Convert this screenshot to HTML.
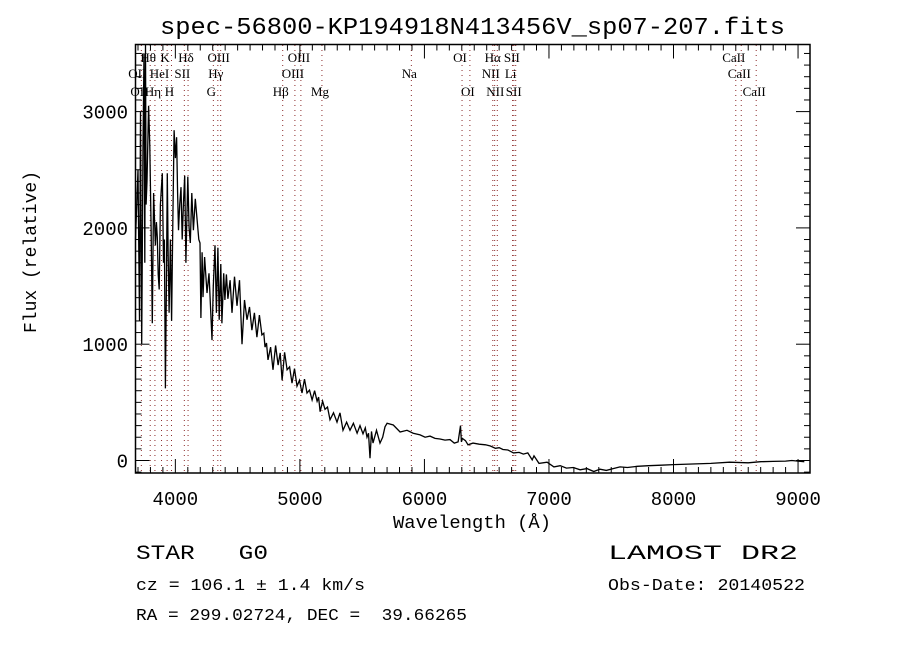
<!DOCTYPE html>
<html><head><meta charset="utf-8"><style>
body{margin:0;background:#fff;}
</style></head><body>
<svg id="chart" width="900" height="650" viewBox="0 0 900 650" xmlns="http://www.w3.org/2000/svg" font-family="Liberation Mono, monospace">
<rect width="900" height="650" fill="#fff"/>
<text x="160" y="34" font-size="24" textLength="625" lengthAdjust="spacingAndGlyphs" fill="#000">spec-56800-KP194918N413456V_sp07-207.fits</text>
<g id="lines"></g>
<g id="ticks"></g>
<path id="spec" fill="none" stroke="#000" stroke-width="1.3"/>
<rect x="135.5" y="44.5" width="674.5" height="428.5" fill="none" stroke="#000" stroke-width="1.5"/>
<text x="393" y="528" font-size="18" textLength="158" lengthAdjust="spacingAndGlyphs">Wavelength (Å)</text>
<text transform="translate(36,252) rotate(-90)" font-size="18" text-anchor="middle">Flux (relative)</text>
<g fill="#000">
<text x="136" y="559" font-size="20" xml:space="preserve" textLength="132" lengthAdjust="spacingAndGlyphs">STAR   G0</text>
<text x="136" y="590" font-size="17" textLength="229" lengthAdjust="spacingAndGlyphs">cz = 106.1 ± 1.4 km/s</text>
<text x="136" y="620" font-size="17" xml:space="preserve" textLength="331" lengthAdjust="spacingAndGlyphs">RA = 299.02724, DEC =  39.66265</text>
<text x="608" y="559" font-size="20" textLength="190" lengthAdjust="spacingAndGlyphs">LAMOST DR2</text>
<text x="608" y="590" font-size="17" textLength="197" lengthAdjust="spacingAndGlyphs">Obs-Date: 20140522</text>
</g>
</svg>
<script>
const wavelengths=[3680,3700,3712,3720,3730,3740,3748,3755,3760,3765,3772,3785,3795,3805,3815,3825,3840,3848,3855,3862,3870,3880,3895,3905,3912,3920,3928,3935,3942,3950,3960,3970,3980,3990,4000,4010,4018,4025,4035,4045,4055,4065,4075,4085,4100,4110,4120,4132,4145,4160,4175,4188,4198,4205,4215,4222,4235,4254,4270,4294,4305,4318,4330,4342,4352,4365,4374,4388,4398,4410,4422,4440,4455,4475,4495,4515,4535,4555,4575,4595,4615,4635,4655,4675,4695,4710,4720,4732,4744,4765,4784,4805,4825,4842,4857,4877,4897,4917,4937,4957,4977,4997,5017,5037,5057,5077,5098,5118,5138,5150,5162,5182,5202,5222,5242,5270,5298,5322,5346,5375,5402,5430,5459,5483,5507,5525,5539,5551,5563,5575,5587,5615,5643,5665,5683,5700,5750,5805,5860,5910,5965,6005,6045,6085,6125,6165,6205,6240,6270,6290,6297,6305,6330,6350,6390,6440,6490,6530,6570,6600,6630,6670,6715,6760,6795,6830,6865,6880,6920,6985,7040,7090,7140,7195,7250,7305,7360,7410,7460,7515,7570,7630,7710,7800,7900,8000,8150,8300,8450,8600,8700,8800,8900,8950,9000,9050];
const fluxValues=[1900,2500,1200,3000,1000,2700,3500,1700,3580,2200,2400,3050,2700,2000,1180,2300,1850,2050,1920,1600,1470,2200,2470,1700,1900,620,1500,2470,1800,1270,1900,1200,2100,2840,2600,2780,2300,1980,2200,2350,1900,2200,2450,1700,2440,2000,1870,2300,1980,2250,2070,1900,1870,1225,1790,1405,1750,1440,1610,1035,1500,1850,1270,1830,1210,1690,1180,1610,1380,1600,1390,1550,1270,1580,1330,1550,1000,1380,1210,1320,1120,1270,1060,1250,1080,1095,975,1010,865,975,780,990,820,925,690,930,780,805,665,790,640,690,580,700,580,605,520,600,510,545,420,510,440,460,350,410,330,410,260,330,260,320,235,300,230,280,200,235,20,250,150,260,150,200,290,320,305,245,260,235,220,200,210,190,185,175,180,150,160,300,160,190,170,135,150,140,135,125,105,110,95,90,65,70,55,65,5,40,-25,-15,-55,-45,-65,-60,-80,-70,-95,-75,-85,-70,-55,-60,-50,-45,-40,-35,-30,-25,-15,-20,-10,-8,-5,0,-5,-10];
const xTickValues=[4000,5000,6000,7000,8000,9000];
const yTickValues=[0,1000,2000,3000];
const lineWaves=[3727,3798,3836,3889,3934,3969,4072,4102,4305,4341,4364,4862,4960,5008,5177,5895,6302,6365,6549,6564,6585,6708,6718,6733,8500,8544,8664];
const lineLabels=[["OII",3727,2],["Hθ",3798,0],["OII",3710,1],["HeI",3889,1],["Hη",3836,2],["K",3934,0],["H",3969,2],["SII",4072,1],["Hδ",4102,0],["G",4305,2],["Hγ",4341,1],["OIII",4364,0],["Hβ",4862,2],["OIII",4960,1],["OIII",5008,0],["Mg",5177,2],["Na",5895,1],["OI",6302,0],["OI",6365,2],["NII",6549,1],["Hα",6564,0],["NII",6585,2],["Li",6708,1],["SII",6718,0],["SII",6733,2],["CaII",8500,0],["CaII",8544,1],["CaII",8664,2]];
const X0=135.5,X1=810,WMIN=3680,WMAX=9096,Y0=460.5,YS=0.1163;
function xs(w){return X0+(w-WMIN)/(WMAX-WMIN)*(X1-X0);}
function ys(f){return Y0-f*YS;}
const NS="http://www.w3.org/2000/svg";
let d="";
for(let i=0;i<wavelengths.length;i++){const y=Math.max(45,Math.min(472,ys(fluxValues[i])));d+=(i?"L":"M")+xs(wavelengths[i]).toFixed(1)+" "+y.toFixed(1);}
document.getElementById('spec').setAttribute('d',d);
const lg=document.getElementById('lines');
lineWaves.forEach(w=>{const l=document.createElementNS(NS,'line');


l.setAttribute('x1',xs(w));l.setAttribute('x2',xs(w));l.setAttribute('y1',45);l.setAttribute('y2',473);l.setAttribute('stroke','#8b2a2a');l.setAttribute('stroke-width','1');l.setAttribute('stroke-dasharray','1,4');lg.appendChild(l);});
const rowsY=[62,78,96];
lineLabels.forEach(a=>{const t=document.createElementNS(NS,'text');


t.setAttribute('x',xs(a[1])-2);t.setAttribute('y',rowsY[a[2]]);t.setAttribute('font-size','13');t.setAttribute('font-family','Liberation Serif, serif');t.setAttribute('text-anchor','middle');t.textContent=a[0];lg.appendChild(t);});
const tg=document.getElementById('ticks');
function ln(x1,y1,x2,y2){const l=document.createElementNS(NS,'line');l.setAttribute('x1',x1);l.setAttribute('y1',y1);l.setAttribute('x2',x2);l.setAttribute('y2',y2);l.setAttribute('stroke','#000');l.setAttribute('stroke-width','1');tg.appendChild(l);}
for(let w=3700;w<=9096;w+=100){const x=xs(w),big=w%1000===0,L=big?14:6;ln(x,473,x,473-L);ln(x,44.5,x,44.5+L);}
for(let f=-100;f<=3500;f+=100){const y=ys(f),big=f%1000===0,L=big?14:6;ln(135.5,y,135.5+L,y);ln(810,y,810-L,y);}
xTickValues.forEach(v=>{const t=document.createElementNS(NS,'text');


t.setAttribute('x',xs(v));t.setAttribute('y',505);t.setAttribute('font-size','19');t.setAttribute('text-anchor','middle');t.textContent=v;tg.appendChild(t);});
yTickValues.forEach(v=>{const t=document.createElementNS(NS,'text');


t.setAttribute('x',128);t.setAttribute('y',ys(v)+7);t.setAttribute('font-size','19');t.setAttribute('text-anchor','end');t.textContent=v;tg.appendChild(t);});
</script>
</body></html>
